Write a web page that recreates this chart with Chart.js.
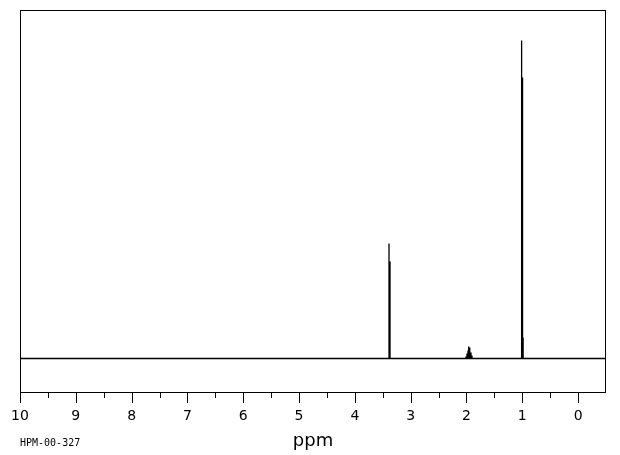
<!DOCTYPE html>
<html>
<head>
<meta charset="utf-8">
<script src="https://cdn.jsdelivr.net/npm/chart.js@4"></script>
<style>
  html, body { margin: 0; padding: 0; background: #fff; }
  #spec { display: block; }
</style>
</head>
<body>
<canvas id="spec" width="620" height="455"></canvas>
<script>
// peak lines (ppm, height above baseline)
const peakPpm    = [3.388, 3.370, 2.009, 1.991, 1.973, 1.961, 1.946, 1.937, 1.919, 1.901, 1.012, 0.995, 0.985];
const peakHeight = [115,   97,    2,     5,     8,     12,    7,     11,    6,     3,     318,   281,   21];
const majorTicks = [10, 9, 8, 7, 6, 5, 4, 3, 2, 1, 0];
const minorTicks = [9.5, 8.5, 7.5, 6.5, 5.5, 4.5, 3.5, 2.5, 1.5, 0.5];
const sampleCode = "HPM-00-327";
const ppmMin = -0.5, ppmMax = 10;

// baseline with a spike for every line, left to right (high ppm first)
const points = [{ x: ppmMax, y: 0 }];
peakPpm.forEach(function (p, i) {
    points.push({ x: p, y: 0 });
    points.push({ x: p, y: peakHeight[i] });
    points.push({ x: p, y: 0 });
});
points.push({ x: ppmMin, y: 0 });

const frame = {
    id: "frame",
    afterDraw: function (chart) {
        const c = chart.ctx, a = chart.chartArea, sx = chart.scales.x;
        c.save();
        c.strokeStyle = "#000";
        c.lineWidth = 1;
        c.strokeRect(Math.round(a.left) + 0.5, Math.round(a.top) + 0.5,
                     Math.round(a.right - a.left) - 1, Math.round(a.bottom - a.top));
        c.beginPath();
        majorTicks.forEach(function (v) {
            const x = Math.round(sx.getPixelForValue(v)) + 0.5;
            c.moveTo(x, a.bottom); c.lineTo(x, a.bottom + 11);
        });
        minorTicks.forEach(function (v) {
            const x = Math.round(sx.getPixelForValue(v)) + 0.5;
            c.moveTo(x, a.bottom); c.lineTo(x, a.bottom + 6);
        });
        c.stroke();
        c.fillStyle = "#000";
        c.font = "10px 'DejaVu Sans Mono'";
        c.textBaseline = "middle";
        c.fillText(sampleCode, 20, 443);
        c.restore();
    }
};

new Chart(document.getElementById("spec"), {
    type: "scatter",
    data: {
        datasets: [{
            data: points,
            showLine: true,
            borderColor: "#000",
            borderWidth: 1.3,
            pointRadius: 0,
            tension: 0
        }]
    },
    options: {
        responsive: false,
        animation: false,
        devicePixelRatio: 1,
        layout: { padding: { left: 20, right: 14, top: 10, bottom: 0 } },
        plugins: { legend: { display: false }, tooltip: { enabled: false } },
        scales: {
            x: {
                type: "linear",
                reverse: true,
                min: ppmMin,
                max: ppmMax,
                grid: { display: false },
                border: { display: false },
                afterBuildTicks: function (scale) {
                    scale.ticks = majorTicks.map(function (v) { return { value: v }; });
                },
                afterFit: function (scale) {
                    scale.height = 63;
                    scale.paddingLeft = 0;
                    scale.paddingRight = 0;
                },
                ticks: {
                    color: "#000",
                    font: { family: "DejaVu Sans", size: 14 },
                    padding: 8,
                    maxRotation: 0,
                    autoSkip: false,
                    callback: function (v) { return String(v); }
                },
                title: {
                    display: true,
                    text: "ppm",
                    color: "#000",
                    font: { family: "DejaVu Sans", size: 18 },
                    padding: { top: 0, bottom: 3 }
                }
            },
            y: { display: false, min: -33.5, max: 348.5 }
        }
    },
    plugins: [frame]
});
</script>
</body>
</html>
